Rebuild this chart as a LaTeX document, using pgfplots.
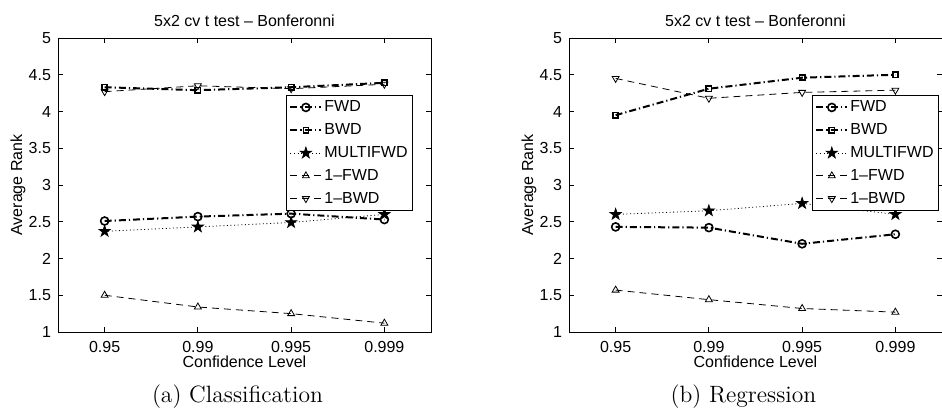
\documentclass[border=0pt]{standalone}
\usepackage{pgfplots}
\pgfplotsset{compat=1.18}
\usepackage{fontspec}
\newfontfamily\helv{Liberation Sans}
\pgfdeclareplotmark{fstar}{%
  \pgfpathmoveto{\pgfpointpolar{90}{\pgfplotmarksize}}%
  \pgfpathlineto{\pgfpointpolar{126}{0.382\pgfplotmarksize}}%
  \pgfpathlineto{\pgfpointpolar{162}{\pgfplotmarksize}}%
  \pgfpathlineto{\pgfpointpolar{198}{0.382\pgfplotmarksize}}%
  \pgfpathlineto{\pgfpointpolar{234}{\pgfplotmarksize}}%
  \pgfpathlineto{\pgfpointpolar{270}{0.382\pgfplotmarksize}}%
  \pgfpathlineto{\pgfpointpolar{306}{\pgfplotmarksize}}%
  \pgfpathlineto{\pgfpointpolar{342}{0.382\pgfplotmarksize}}%
  \pgfpathlineto{\pgfpointpolar{18}{\pgfplotmarksize}}%
  \pgfpathlineto{\pgfpointpolar{54}{0.382\pgfplotmarksize}}%
  \pgfpathclose\pgfusepathqfillstroke}
\pgfplotsset{
  myax/.style={
    scale only axis, width=186.5pt, height=147pt,
    anchor=south west,
    xmin=-0.5, xmax=3.5, ymin=1, ymax=5,
    xtick={0,1,2,3}, xticklabels={0.95,0.99,0.995,0.999},
    ytick={1,1.5,2,2.5,3,3.5,4,4.5,5},
    yticklabels={1,1.5,2,2.5,3,3.5,4,4.5,5},
    /pgf/number format/assume math mode=true,
    tick label style={font=\helv\fontsize{8}{9.6}\selectfont},
    label style={font=\helv\fontsize{8}{9.6}\selectfont},
    every axis title shift=0pt,
    title style={font=\helv\fontsize{8}{9.6}\selectfont, at={(axis description cs:0.5,1.0388)}, anchor=base},
    xlabel style={at={(axis description cs:0.5,-0.102)}, anchor=center},
    ylabel style={at={(axis description cs:-0.107,0.5)}, anchor=center},
    xticklabel style={anchor=center, yshift=-7.5pt},
    major tick length=2.5pt,
    tick align=inside,
    axis line style={line width=0.5pt},
    every tick/.style={black, line width=0.4pt},
    title={5x2 cv t test – Bonferonni},
    xlabel={Confidence Level},
    ylabel={Average Rank},
    legend cell align=left,
    legend style={font=\helv\fontsize{8}{9.6}\selectfont, draw=black, line width=0.5pt,
      anchor=north west, inner xsep=1.5pt, inner ysep=1.2pt,
      nodes={inner sep=1pt, text height=6pt, text depth=1.5pt}, row sep=1.9pt},
    legend image code/.code={\draw[mark repeat=2,mark phase=2] plot coordinates {(0pt,0pt)(7.75pt,0pt)(15.5pt,0pt)};},
  },
  sFWD/.style={black, line width=1pt, dash pattern=on 3.5pt off 1.5pt on 0.6pt off 1.5pt, mark=o, mark size=2pt, mark options={solid, line width=0.8pt}},
  sBWD/.style={black, line width=1pt, dash pattern=on 3.5pt off 1.5pt on 0.6pt off 1.5pt, mark=square, mark size=1.3pt, mark options={solid, line width=0.8pt}},
  sMULTI/.style={black, line width=0.4pt, dash pattern=on 0.5pt off 1.3pt, mark=fstar, mark size=2.9pt, mark options={solid, fill=black}},
  sOFWD/.style={black, line width=0.4pt, dash pattern=on 3.5pt off 2.5pt, mark=triangle, mark size=2pt, mark options={solid}},
  sOBWD/.style={black, line width=0.4pt, dash pattern=on 3.5pt off 2.5pt, mark=triangle, mark size=2pt, mark options={solid, rotate=180}},
}
\begin{document}
\begin{tikzpicture}
\path[use as bounding box] (0,0) rectangle (471pt,206pt);
\begin{axis}[myax, at={(29pt,40pt)}, legend style={at={(axis description cs:0.611,0.806)}}]
\addplot[sFWD] coordinates {(0,2.51) (1,2.57) (2,2.61) (3,2.53)};
\addplot[sBWD] coordinates {(0,4.33) (1,4.29) (2,4.33) (3,4.39)};
\addplot[sMULTI] coordinates {(0,2.37) (1,2.43) (2,2.49) (3,2.60)};
\addplot[sOFWD] coordinates {(0,1.50) (1,1.34) (2,1.25) (3,1.12)};
\addplot[sOBWD] coordinates {(0,4.27) (1,4.35) (2,4.31) (3,4.37)};
\legend{FWD,BWD,MULTIFWD,1–FWD,1–BWD}
\end{axis}
\begin{axis}[myax, at={(284.5pt,40pt)}, legend style={at={(axis description cs:0.651,0.806)}}]
\addplot[sFWD] coordinates {(0,2.43) (1,2.42) (2,2.20) (3,2.33)};
\addplot[sBWD] coordinates {(0,3.95) (1,4.31) (2,4.46) (3,4.50)};
\addplot[sMULTI] coordinates {(0,2.60) (1,2.65) (2,2.75) (3,2.60)};
\addplot[sOFWD] coordinates {(0,1.57) (1,1.44) (2,1.32) (3,1.27)};
\addplot[sOBWD] coordinates {(0,4.45) (1,4.18) (2,4.26) (3,4.29)};
\legend{FWD,BWD,MULTIFWD,1–FWD,1–BWD}
\end{axis}
\node[font=\fontsize{11.8}{14}\selectfont, anchor=base west, inner sep=0pt] at (75.8pt,4.5pt) {(a) Classification};
\node[font=\fontsize{11.8}{14}\selectfont, anchor=base east, inner sep=0pt] at (408.3pt,4.5pt) {(b) Regression};
\end{tikzpicture}
\end{document}
